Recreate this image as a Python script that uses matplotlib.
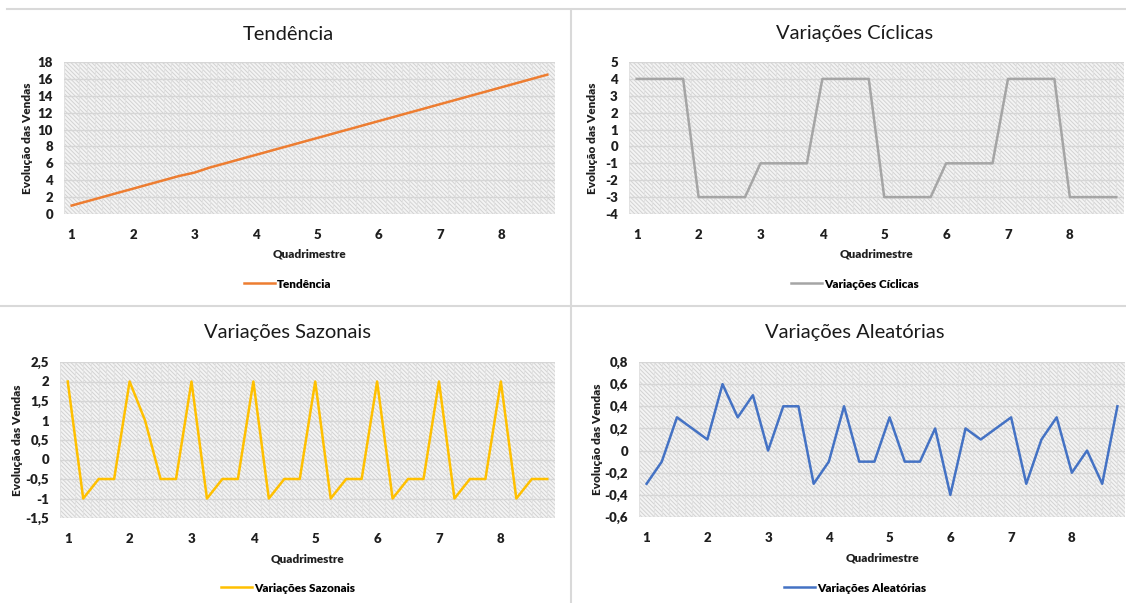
import matplotlib
matplotlib.use("Agg")
import matplotlib.pyplot as plt
from matplotlib.lines import Line2D
from matplotlib.patches import Rectangle

plt.rcParams["font.family"] = ["Lato", "DejaVu Sans"]
plt.rcParams["hatch.linewidth"] = 0.7

# quadrimestres (rótulo a cada 4 períodos)
quadrimestres = ["1", "2", "3", "4", "5", "6", "7", "8"]

tendencia = [1, 1.5, 2, 2.5, 3, 3.5, 4, 4.5, 4.9, 5.5, 6, 6.5, 7, 7.5, 8, 8.5,
             9, 9.5, 10, 10.5, 11, 11.5, 12, 12.5, 13, 13.5, 14, 14.5, 15, 15.5, 16, 16.5]
ciclicas = [4, 4, 4, 4, -3, -3, -3, -3, -1, -1, -1, -1, 4, 4, 4, 4,
            -3, -3, -3, -3, -1, -1, -1, -1, 4, 4, 4, 4, -3, -3, -3, -3]
sazonais = [2, -1, -0.5, -0.5, 2, 1, -0.5, -0.5, 2, -1, -0.5, -0.5, 2, -1, -0.5, -0.5,
            2, -1, -0.5, -0.5, 2, -1, -0.5, -0.5, 2, -1, -0.5, -0.5, 2, -1, -0.5, -0.5]
aleatorias = [-0.3, -0.1, 0.3, 0.2, 0.1, 0.6, 0.3, 0.5, 0, 0.4, 0.4, -0.3, -0.1, 0.4, -0.1, -0.1,
              0.3, -0.1, -0.1, 0.2, -0.4, 0.2, 0.1, 0.2, 0.3, -0.3, 0.1, 0.3, -0.2, 0, -0.3, 0.4]

W, H = 1126, 603
fig = plt.figure(figsize=(W / 100, H / 100), dpi=100)
fig.patch.set_facecolor("white")


def px(x0, y_top, x1, y_bot):
    return [x0 / W, 1 - y_bot / H, (x1 - x0) / W, (y_bot - y_top) / H]


# titulo, serie, cor, caixa (px), limites y, passo y, recuo do rótulo y (px),
# centro do título (px), centro da legenda (px)
paineis = [
    ("Tendência", tendencia, "#ED7D31", (64, 62, 555, 214), (0, 18), 2, 31,
     (288, 34), (288, 284)),
    ("Variações Cíclicas", ciclicas, "#A5A5A5", (629, 62, 1124, 214), (-4, 5), 1, 31,
     (855, 34), (855, 284)),
    ("Variações Sazonais", sazonais, "#FFC000", (60, 362, 555, 518), (-1.5, 2.5), 0.5, 37,
     (288, 332), (288, 588)),
    ("Variações Aleatórias", aleatorias, "#4472C4", (639, 362, 1125, 517), (-0.6, 0.8), 0.2, 36,
     (855, 332), (855, 588)),
]


def fmt(v):
    s = f"{v:.1f}".rstrip("0").rstrip(".")
    if s == "-0":
        s = "0"
    return s.replace(".", ",")


for titulo, serie, cor, caixa, ylim, passo, recuo, tit, leg in paineis:
    ax = fig.add_axes(px(*caixa))
    n = len(serie)
    ax.set_xlim(-0.5, n - 0.5)
    ax.set_ylim(*ylim)
    ax.patch.set_alpha(0)

    # fundo tracejado
    ax.add_patch(Rectangle((0, 0), 1, 1, transform=ax.transAxes, facecolor="#f4f4f4",
                           edgecolor="#d2d2d2", hatch="\\" * 8, lw=0, zorder=0))

    yt = []
    v = ylim[0]
    while v <= ylim[1] + 1e-9:
        yt.append(round(v, 3))
        v += passo
    ax.set_yticks(yt)
    ax.set_yticklabels([fmt(t) for t in yt])
    ax.set_xticks(range(0, n, 4))
    ax.set_xticklabels(quadrimestres)
    ax.set_xticks([i / 2 - 0.5 for i in range(2 * n + 1)], minor=True)

    ax.grid(axis="y", which="major", color="#d6d6d6", lw=1.0, zorder=0.5)
    ax.grid(axis="x", which="minor", color="#e2e2e2", lw=0.8, zorder=0.5)
    ax.set_axisbelow(True)
    for s in ax.spines.values():
        s.set_visible(False)
    ax.tick_params(which="both", length=0)
    ax.tick_params(axis="x", pad=11)
    ax.tick_params(axis="y", pad=8)
    for lab in ax.get_xticklabels() + ax.get_yticklabels():
        lab.set_fontweight("heavy")
        lab.set_fontsize(9.5)
        lab.set_color("#1f1f1f")

    ax.plot(range(n), serie, color=cor, lw=1.8, zorder=3, label=titulo)

    fig.text(tit[0] / W, 1 - tit[1] / H, titulo, fontsize=14.5, color="#1a1a1a",
             ha="center", va="center")
    ax.set_xlabel("Quadrimestre", fontsize=8.5, fontweight="heavy", color="#1f1f1f")
    ax.xaxis.set_label_coords(0.5, -0.23)
    ax.set_ylabel("Evolução das Vendas", fontsize=8.5, fontweight="heavy", color="#1f1f1f")
    ax.yaxis.set_label_coords(-recuo / (caixa[2] - caixa[0]), 0.5)
    ax.legend(loc="center", bbox_to_anchor=(leg[0] / W, 1 - leg[1] / H),
              bbox_transform=fig.transFigure, frameon=False, handlelength=2.6,
              handletextpad=0.2, prop={"size": 8.5, "weight": "heavy"})

# linhas separadoras
sep = "#d9d9d9"
fig.add_artist(Line2D([7 / W, 1], [1 - 9 / H, 1 - 9 / H], color=sep, lw=1.5))
fig.add_artist(Line2D([0, 1], [1 - 306 / H, 1 - 306 / H], color=sep, lw=1.5))
fig.add_artist(Line2D([571 / W, 571 / W], [0, 1 - 10 / H], color=sep, lw=1.5))

fig.savefig("out.png", dpi=100)
